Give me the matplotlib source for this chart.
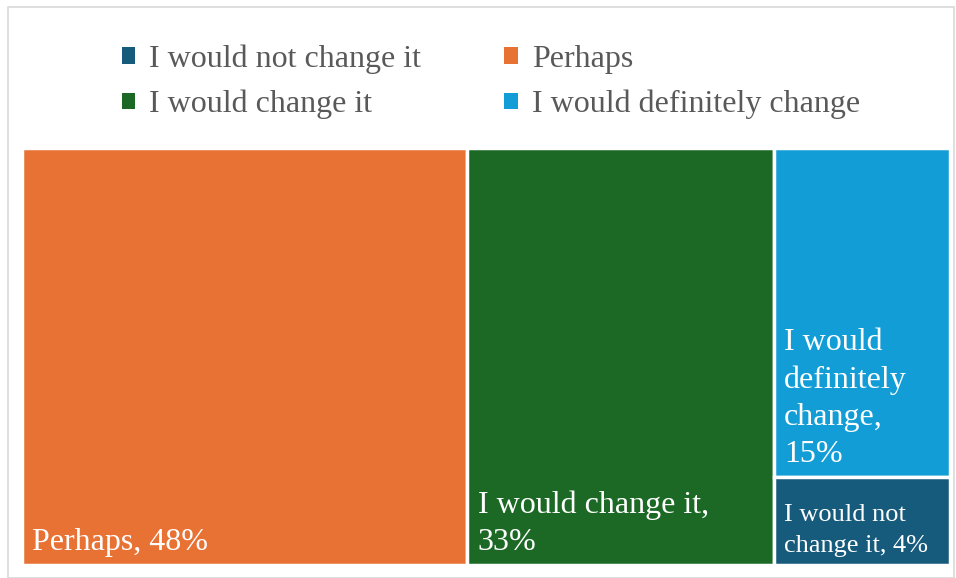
import matplotlib.pyplot as plt
from matplotlib.patches import Rectangle, Patch

plt.rcParams['font.family'] = ['Liberation Serif', 'DejaVu Serif']

# survey answers (percent)
labels = ['Perhaps', 'I would change it', 'I would definitely change', 'I would not change it']
values = [48, 33, 15, 4]
colors = ['#E87134', '#1B6925', '#139DD6', '#165A7C']
box_text = ['Perhaps, 48%', 'I would change it,\n33%', 'I would\ndefinitely\nchange,\n15%',
            'I would not\nchange it, 4%']
text_size = [23, 23, 23, 19]
line_gap = [1.36, 1.36, 1.36, 1.5]

fig = plt.figure(figsize=(9.56, 5.78), dpi=100)
fig.patches.append(Rectangle((8 / 956, 0), 946 / 956, 1 - 7 / 578, transform=fig.transFigure,
                             fill=False, edgecolor='#D9D9D9', lw=1.2))
ax = fig.add_axes([22 / 956, 13 / 578, 928 / 956, 417 / 578])

# two full-height columns, the last column split between the two smaller groups
total = sum(values)
rects = []
x = 0
for v in values[:2]:
    w = v / total * 100
    rects.append((x, 0, w, 100))
    x += w
rest = values[2] + values[3]
w = rest / total * 100
h_low = values[3] / rest * 100
rects.append((x, h_low, w, 100 - h_low))
rects.append((x, 0, w, h_low))

for (rx, ry, rw, rh), c, t, fs, ls in zip(rects, colors, box_text, text_size, line_gap):
    ax.add_patch(Rectangle((rx, ry), rw, rh, facecolor=c, edgecolor='white', lw=2.5))
    ax.annotate(t, (rx, ry), xytext=(7.5, 6), textcoords='offset points',
                ha='left', va='bottom', color='white', fontsize=fs, linespacing=ls)

ax.set_xlim(0, 100)
ax.set_ylim(0, 100)
ax.axis('off')

order = [3, 1, 0, 2]
handles = [Patch(facecolor=colors[i], label=labels[i]) for i in order]
fig.legend(handles=handles, ncol=2, loc='center', bbox_to_anchor=(491 / 956, 1 - 82 / 578),
           frameon=False, fontsize=23, labelcolor='#595959', handlelength=0.42, handleheight=0.42,
           handletextpad=0.45, columnspacing=2.6, labelspacing=0.5)

fig.savefig('out.png', dpi=100)
